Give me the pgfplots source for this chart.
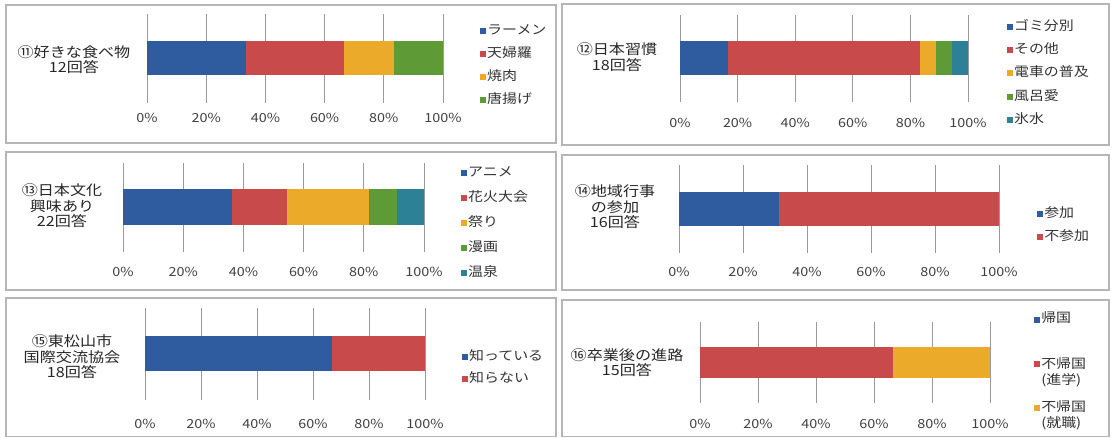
\documentclass[border=0pt]{standalone}
\usepackage{fontspec}
\setmainfont{Noto Sans CJK JP}
\newfontfamily\jpw[FakeStretch=1.15]{Noto Sans CJK JP}
\usepackage{pgfplots}
\pgfplotsset{compat=1.18}

\definecolor{cb}{HTML}{2F5C9E}
\definecolor{cr}{HTML}{C94A4A}
\definecolor{co}{HTML}{EBAA2A}
\definecolor{cg}{HTML}{5E9A36}
\definecolor{ct}{HTML}{2C8196}
\definecolor{gridc}{HTML}{9A9A9A}
\definecolor{framec}{HTML}{B5B5B5}

\pgfplotsset{
 panel/.style={
  scale only axis, xbar stacked, xmin=0, xmax=100, ymin=0, ymax=1,
  axis line style={draw=none}, ytick=\empty, xtick={0,20,...,100},
  xticklabels={0\%,20\%,40\%,60\%,80\%,100\%},
  xmajorgrids, grid style={gridc, line width=0.7pt},
  major tick length=0pt,
  /pgf/number format/assume math mode=true,
  tick label style={font=\jpw\fontsize{12.5}{14}\selectfont, text=black!75, inner sep=2pt},
  anchor=north west,
  legend style={draw=none, fill=none, inner sep=0pt, anchor=west,
    font=\jpw\fontsize{13}{15}\selectfont, text=black!80,
    cells={anchor=west},
    nodes={text height=10pt, text depth=3pt, inner sep=1pt},
    /tikz/every even column/.append style={column sep=1pt}},
  legend image code/.code={\path[#1,draw=none] (0pt,-3pt) rectangle (6pt,3pt);},
 },
 shiftimg/.style={legend image code/.code={\path[##1,draw=none] (0pt,5pt) rectangle (6pt,11pt);}},
 every axis plot/.append style={draw=none},
}

\begin{document}
\begin{tikzpicture}[x=1pt,y=1pt]
\path (0,0) rectangle (1113,438);
% panel frames
\begin{scope}[framec, line width=1.1pt]
\draw (6,433) rectangle (556,295);
\draw (562,434) rectangle (1109,293);
\draw (6,286) rectangle (556,148);
\draw (562,283) rectangle (1109,148);
\draw (6,140) rectangle (556,1.5);
\draw (562,138) rectangle (1109,1.5);
\end{scope}

% titles
\begin{scope}[font=\jpw\fontsize{14}{15.5}\selectfont, text=black!85]
\node[align=center] at (74,378.5) {⑪好きな食べ物\\12回答};
\node[align=center] at (617,381) {⑫日本習慣\\18回答};
\node[align=center] at (62,232) {⑬日本文化\\興味あり\\22回答};
\node[align=center] at (615,231) {⑭地域行事\\の参加\\16回答};
\node[align=center] at (72,81) {⑮東松山市\\国際交流協会\\18回答};
\node[align=center] at (627,75.5) {⑯卒業後の進路\\15回答};
\end{scope}

% 1
\begin{axis}[panel, at={(147pt,424pt)}, width=296pt, height=89pt, bar width=34pt,
  xticklabel style={yshift=-8pt},
  legend style={at={(1.125,0.425)}, row sep=8pt}]
\addplot[fill=cb] coordinates {(33.33,0.5)}; \addlegendentry{ラーメン}
\addplot[fill=cr] coordinates {(33.33,0.5)}; \addlegendentry{天婦羅}
\addplot[fill=co] coordinates {(16.67,0.5)}; \addlegendentry{焼肉}
\addplot[fill=cg] coordinates {(16.67,0.5)}; \addlegendentry{唐揚げ}
\end{axis}

% 2
\begin{axis}[panel, at={(680pt,423pt)}, width=288pt, height=87pt, bar width=34pt,
  xticklabel style={yshift=-14pt},
  legend style={at={(1.135,0.328)}, row sep=8.3pt}]
\addplot[fill=cb] coordinates {(16.67,0.5)}; \addlegendentry{ゴミ分別}
\addplot[fill=cr] coordinates {(66.67,0.5)}; \addlegendentry{その他}
\addplot[fill=co] coordinates {(5.56,0.5)}; \addlegendentry{電車の普及}
\addplot[fill=cg] coordinates {(5.56,0.5)}; \addlegendentry{風呂愛}
\addplot[fill=ct] coordinates {(5.56,0.5)}; \addlegendentry{氷水}
\end{axis}

% 3
\begin{axis}[panel, at={(123pt,275pt)}, width=301pt, height=89pt, bar width=36pt,
  xticklabel style={yshift=-13pt},
  legend style={at={(1.123,0.326)}, row sep=10pt}]
\addplot[fill=cb] coordinates {(36.36,0.5)}; \addlegendentry{アニメ}
\addplot[fill=cr] coordinates {(18.18,0.5)}; \addlegendentry{花火大会}
\addplot[fill=co] coordinates {(27.27,0.5)}; \addlegendentry{祭り}
\addplot[fill=cg] coordinates {(9.09,0.5)}; \addlegendentry{漫画}
\addplot[fill=ct] coordinates {(9.09,0.5)}; \addlegendentry{温泉}
\end{axis}

% 4
\begin{axis}[panel, at={(679pt,273pt)}, width=320pt, height=88pt, bar width=34pt,
  xticklabel style={yshift=-12pt},
  legend style={at={(1.119,0.307)}, row sep=8pt}]
\addplot[fill=cb] coordinates {(31.25,0.5)}; \addlegendentry{参加}
\addplot[fill=cr] coordinates {(68.75,0.5)}; \addlegendentry{不参加}
\end{axis}

% 5
\begin{axis}[panel, at={(145pt,130pt)}, width=280pt, height=92pt, bar width=35pt,
  xticklabel style={yshift=-17pt},
  legend style={at={(1.132,0.348)}, row sep=7pt}]
\addplot[fill=cb] coordinates {(66.67,0.5)}; \addlegendentry{知っている}
\addplot[fill=cr] coordinates {(33.33,0.5)}; \addlegendentry{知らない}
\end{axis}

% 6
\begin{axis}[panel, at={(700pt,116pt)}, width=290pt, height=81pt, bar width=31pt,
  xticklabel style={yshift=-14pt},
  legend style={at={(1.152,0.395)}, row sep=12pt,
    nodes={text height=, text depth=, align=left, inner sep=1pt},
    font=\jpw\fontsize{13}{16}\selectfont}]
\addplot[fill=cb, shiftimg] coordinates {(0,0.5)}; \addlegendentry{帰国\\\strut}
\addplot[fill=cr, shiftimg] coordinates {(66.67,0.5)}; \addlegendentry{不帰国\\(進学)}
\addplot[fill=co, shiftimg] coordinates {(33.33,0.5)}; \addlegendentry{不帰国\\(就職)}
\end{axis}
\end{tikzpicture}
\end{document}
